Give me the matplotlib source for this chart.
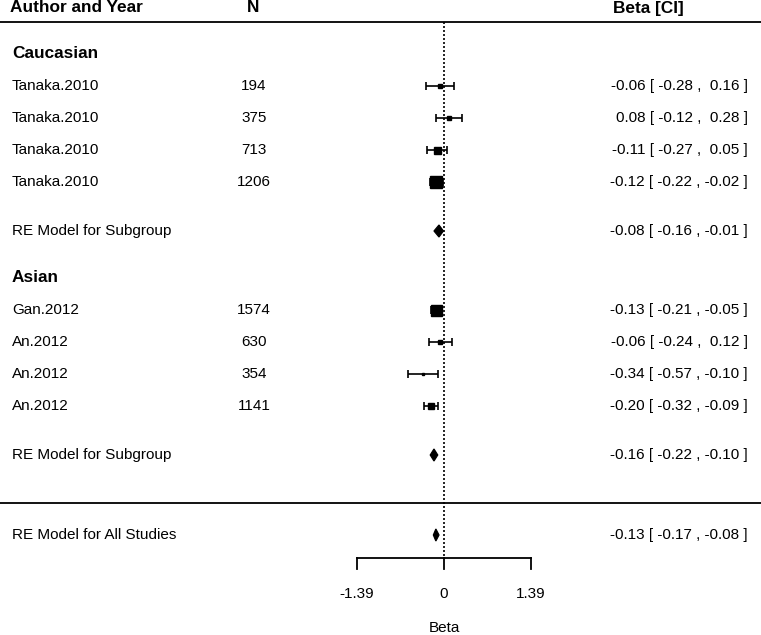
import matplotlib.pyplot as plt
import matplotlib.transforms as mtransforms

# ---- data ----
cau_names = ["Tanaka.2010", "Tanaka.2010", "Tanaka.2010", "Tanaka.2010"]
cau_n = [194, 375, 713, 1206]
cau_beta = [-0.06, 0.08, -0.11, -0.12]
cau_lo = [-0.28, -0.12, -0.27, -0.22]
cau_hi = [0.16, 0.28, 0.05, -0.02]
cau_re = (-0.08, -0.16, -0.01)

asi_names = ["Gan.2012", "An.2012", "An.2012", "An.2012"]
asi_n = [1574, 630, 354, 1141]
asi_beta = [-0.13, -0.06, -0.34, -0.20]
asi_lo = [-0.21, -0.24, -0.57, -0.32]
asi_hi = [-0.05, 0.12, -0.10, -0.09]
asi_re = (-0.16, -0.22, -0.10)

all_re = (-0.13, -0.17, -0.08)
x_ticks = [-1.39, 0, 1.39]

# square side in px (weights)
cau_sq = [5, 5, 7, 12]
asi_sq = [11, 5, 2, 6]

W, H = 761, 635
fig = plt.figure(figsize=(W / 100, H / 100), dpi=100)
ax = fig.add_axes([0, 0, 1, 1])
# 0 sits at 444 px, 1.39 units = 87 px
scale = 87 / 1.39
ax.set_xlim(-444 / scale, (W - 444) / scale)
ax.set_ylim(H, 0)
ax.axis("off")
plt.rcParams["font.family"] = ["Liberation Sans", "DejaVu Sans"]

tr = mtransforms.blended_transform_factory(ax.transAxes, ax.transData)
fs = 11
fb = 12.4


def fmt(b, lo, hi):
    return "{:.2f} [ {:.2f} , {:>5} ]".format(b, lo, "{:.2f}".format(hi))


def diamond(y, est, lo, hi, h=6):
    ax.fill([lo, est, hi, est], [y, y - h, y, y + h], facecolor="black",
            edgecolor="black", lw=0.9)


def study_rows(y0, names, ns, beta, lo, hi, sq):
    for i in range(len(names)):
        y = y0 + 32 * i
        ax.text(12 / W, y, names[i], transform=tr, fontsize=fs, va="center")
        ax.text(254 / W, y, str(ns[i]), transform=tr, fontsize=fs,
                va="center", ha="center")
        ax.errorbar(beta[i], y, xerr=[[beta[i] - lo[i]], [hi[i] - beta[i]]],
                    fmt="none", ecolor="black", elinewidth=1.2,
                    capsize=2.6, capthick=1.2)
        ax.plot(beta[i], y, "s", color="black", markersize=sq[i] * 0.72)
        ax.text(748 / W, y, fmt(beta[i], lo[i], hi[i]), transform=tr,
                fontsize=fs, va="center", ha="right")


# header
ax.text(10 / W, 8, "Author and Year", transform=tr, fontsize=fb,
        fontweight="bold", va="center")
ax.text(253 / W, 8, "N", transform=tr, fontsize=fb,
        fontweight="bold", va="center", ha="center")
ax.text(648 / W, 8, "Beta [CI]", transform=tr, fontsize=fb,
        fontweight="bold", va="center", ha="center")
ax.axhline(22, color="black", lw=1.3)
ax.axhline(503, color="black", lw=1.3)

# reference line
ax.plot([0, 0], [22, 558], color="black", lw=1.2, ls=(0, (1.2, 1.2)))

# Caucasian
ax.text(12 / W, 54, "Caucasian", transform=tr, fontsize=fb,
        fontweight="bold", va="center")
study_rows(86, cau_names, cau_n, cau_beta, cau_lo, cau_hi, cau_sq)
ax.text(12 / W, 231, "RE Model for Subgroup", transform=tr, fontsize=fs,
        va="center")
diamond(231, *cau_re)
ax.text(748 / W, 231, fmt(*cau_re), transform=tr, fontsize=fs,
        va="center", ha="right")

# Asian
ax.text(12 / W, 278, "Asian", transform=tr, fontsize=fb,
        fontweight="bold", va="center")
study_rows(310, asi_names, asi_n, asi_beta, asi_lo, asi_hi, asi_sq)
ax.text(12 / W, 455, "RE Model for Subgroup", transform=tr, fontsize=fs,
        va="center")
diamond(455, *asi_re)
ax.text(748 / W, 455, fmt(*asi_re), transform=tr, fontsize=fs,
        va="center", ha="right")

# overall
ax.text(12 / W, 535, "RE Model for All Studies", transform=tr, fontsize=fs,
        va="center")
diamond(535, *all_re)
ax.text(748 / W, 535, fmt(*all_re), transform=tr, fontsize=fs,
        va="center", ha="right")

# x axis
ax.plot([x_ticks[0], x_ticks[-1]], [558, 558], color="black", lw=1.3)
for t in x_ticks:
    ax.plot([t, t], [558, 569], color="black", lw=1.3)
    ax.text(t, 594, "{:g}".format(t), fontsize=fs, ha="center", va="center")
ax.text(0, 628, "Beta", fontsize=fs, ha="center", va="center")

fig.savefig("out.png", dpi=100)
